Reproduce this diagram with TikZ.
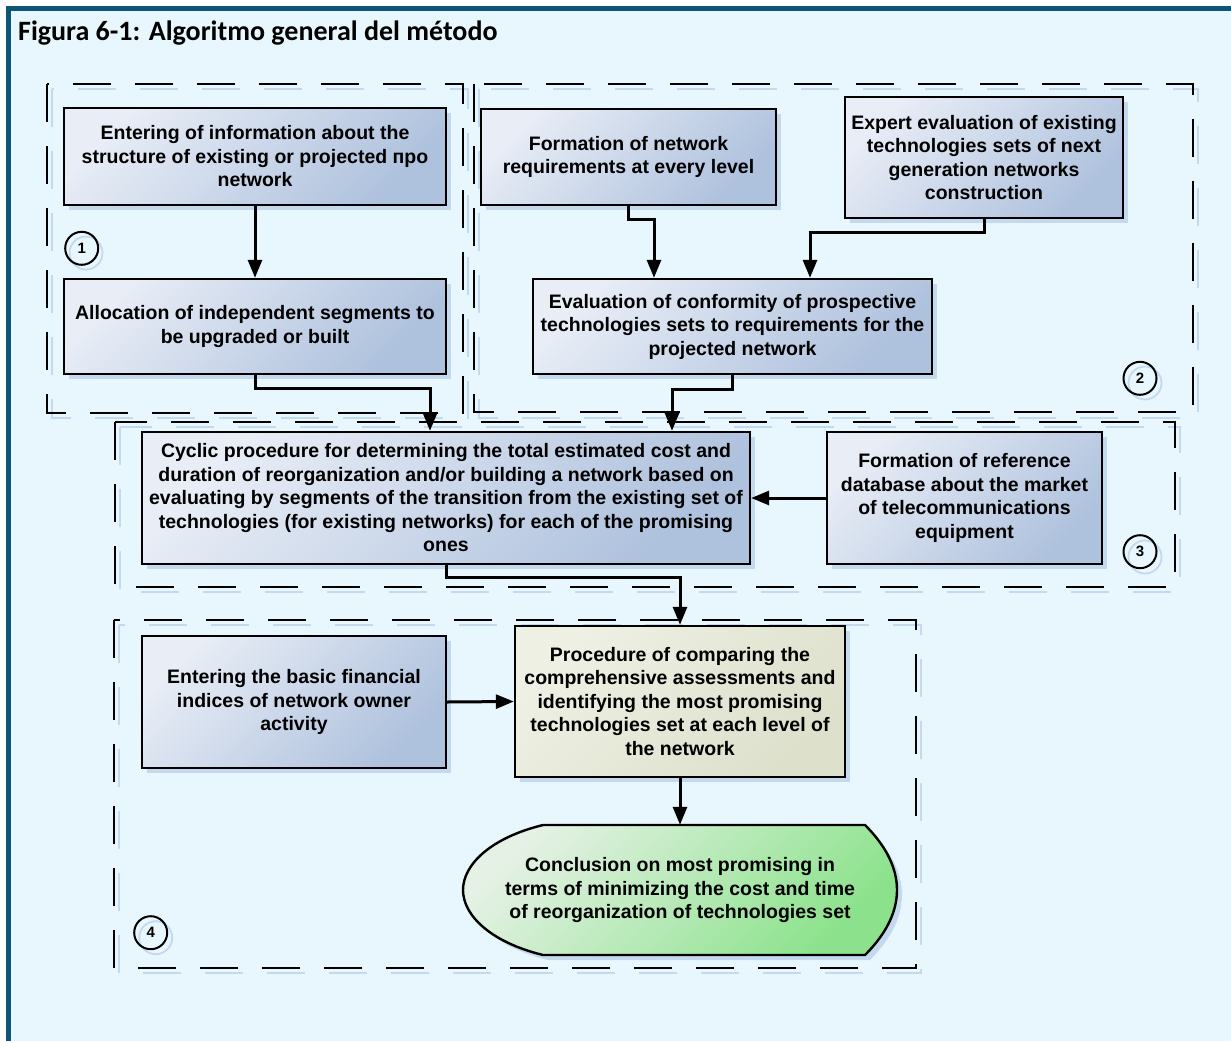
\documentclass[tikz,border=0pt]{standalone}
\usepackage{fontspec}
\setmainfont{Liberation Sans}
\newfontfamily\titlefont{Carlito}
\usetikzlibrary{arrows.meta,shadows,calc}

\definecolor{frameblue}{HTML}{0E5675}
\definecolor{paper}{HTML}{E8F7FD}
\definecolor{boxlight}{HTML}{E8EDF6}
\definecolor{boxdark}{HTML}{AEC1DD}
\definecolor{shade}{HTML}{C4D9EE}
\definecolor{cmplight}{HTML}{EEF0E4}
\definecolor{cmpdark}{HTML}{DDE0CB}
\definecolor{endlight}{HTML}{E4F1E4}
\definecolor{enddark}{HTML}{8CE28C}

\tikzset{
  grp/.style={draw=black, line width=2.4pt, dash pattern=on 38pt off 24pt},
  grpshadow/.style={draw=shade, line width=2pt, dash pattern=on 38pt off 24pt},
  boxshadow/.style={drop shadow={shadow xshift=5pt, shadow yshift=-5pt, fill=shade, opacity=1}},
  box/.style={draw=black, line width=2.4pt, shading=axis, left color=boxlight,
    right color=boxdark, shading angle=45, boxshadow, align=center,
    font=\bfseries\fontsize{19.5}{23.5}\selectfont, inner sep=0pt},
  cmpbox/.style={box, left color=cmplight, right color=cmpdark, shading angle=45},
  endshape/.style={draw=black, line width=2.4pt, shading=axis, left color=endlight,
    right color=enddark, shading angle=45, boxshadow},
  endtext/.style={align=center, font=\bfseries\fontsize{19.5}{23.5}\selectfont, inner sep=0pt},
  arr/.style={line width=3pt, line join=miter, -{Triangle[length=18pt,width=14pt]}},
  numc/.style={circle, draw=black, line width=2pt, minimum size=33pt, inner sep=0pt,
    font=\bfseries\fontsize{15}{15}\selectfont},
  numshadow/.style={circle, draw=shade, line width=1.8pt, minimum size=33pt, inner sep=0pt},
}

\begin{document}
\begin{tikzpicture}[x=1pt,y=-1pt]
\useasboundingbox (0,0) rectangle (1231,1041);
% page and frame
\fill[white] (0,0) rectangle (1231,1041);
\fill[paper] (6,6) rectangle (1231,1041);
\fill[frameblue] (6,6) rectangle (1231,11);
\fill[frameblue] (6,6) rectangle (11,1041);

\node[anchor=base west, inner sep=0pt,
      font=\titlefont\bfseries\fontsize{28}{32}\selectfont] (title) at (18,40.5)
  {Figura 6-1: Algoritmo general del método};

% dashed groups (shadow first)
\draw[grpshadow] (52,89) rectangle (468,418);
\draw[grpshadow] (479,89) rectangle (1198,418);
\draw[grpshadow] (120,427) rectangle (1180,592);
\draw[grpshadow] (119,625) rectangle (921,973);
\draw[grp] (47,84) rectangle (463,413);
\draw[grp] (474,84) rectangle (1193,412);
\draw[grp] (115,422) rectangle (1175,587);
\draw[grp] (114,620) rectangle (916,968);

% group numbers
\node[numshadow] at (86,253) {};
\node[numc] (n1) at (81.7,248.3) {1};
\node[numshadow] at (1145,383) {};
\node[numc] (n2) at (1140,378.3) {2};
\node[numshadow] at (1145,557) {};
\node[numc] (n3) at (1140,551.7) {3};
\node[numshadow] at (155.7,937.7) {};
\node[numc] (n4) at (150.7,932.7) {4};

% process boxes
\node[box, minimum width=382pt, minimum height=97pt] (b1) at (255,156.5)
  {Entering of information about the\\structure of existing or projected про\\network};
\node[box, minimum width=382pt, minimum height=95pt] (b2) at (255,326.5)
  {Allocation of independent segments to\\be upgraded or built};
\node[box, minimum width=295pt, minimum height=96pt] (b3) at (628.5,157)
  {Formation of network\\requirements at every level};
\node[box, minimum width=278pt, minimum height=121pt] (b4) at (984,157.5)
  {Expert evaluation of existing\\technologies sets of next\\generation networks\\construction};
\node[box, minimum width=399pt, minimum height=95pt] (b5) at (732.5,326.5)
  {Evaluation of conformity of prospective\\technologies sets to requirements for the\\projected network};
\node[box, minimum width=608pt, minimum height=132pt] (b6) at (446,498)
  {Cyclic procedure for determining the total estimated cost and\\duration of reorganization and/or building a network based on\\evaluating by segments of the transition from the existing set of\\technologies (for existing networks) for each of the promising\\ones};
\node[box, minimum width=275pt, minimum height=132pt] (b7) at (964.5,498)
  {Formation of reference\\database about the market\\of telecommunications\\equipment};
\node[box, minimum width=304pt, minimum height=132pt] (b8) at (294,702)
  {Entering the basic financial\\indices of network owner\\activity};
\node[cmpbox, minimum width=330pt, minimum height=151pt] (b9) at (680,701.5)
  {Procedure of comparing the\\comprehensive assessments and\\identifying the most promising\\technologies set at each level of\\the network};

% terminal shape
\draw[endshape] (543,825) -- (865,825)
  .. controls (888,848) and (897,870) .. (897,890)
  .. controls (897,910) and (888,932) .. (865,955)
  -- (543,955)
  .. controls (490,942) and (463,915) .. (463,890)
  .. controls (463,865) and (490,838) .. (543,825) -- cycle;
\node[endtext, minimum width=434pt, minimum height=130pt] (b10) at (680,890)
  {Conclusion on most promising in\\terms of minimizing the cost and time\\of reorganization of technologies set};

% connectors
\draw[arr] (b1.south) -- (b2.north);
\draw[arr] (b2.south) -- ++(0,13) -| ([xshift=-16pt]b6.north);
\draw[arr] (b3.south) -- ++(0,13) -| ([xshift=-78.5pt]b5.north);
\draw[arr] (b4.south) -- ++(0,13) -| ([xshift=77.5pt]b5.north);
\draw[arr] (b5.south) -- ++(0,14) -| ([xshift=-60.5pt]b5.south |- b6.north);
\draw[arr] (b7.west) -- (b6.east);
\draw[arr] (b6.south) -- ++(0,12) -| (b9.north);
\draw[arr] (b8.east) -- (b9.west);
\draw[arr] (b9.south) -- (b10.north);
\end{tikzpicture}
\end{document}
